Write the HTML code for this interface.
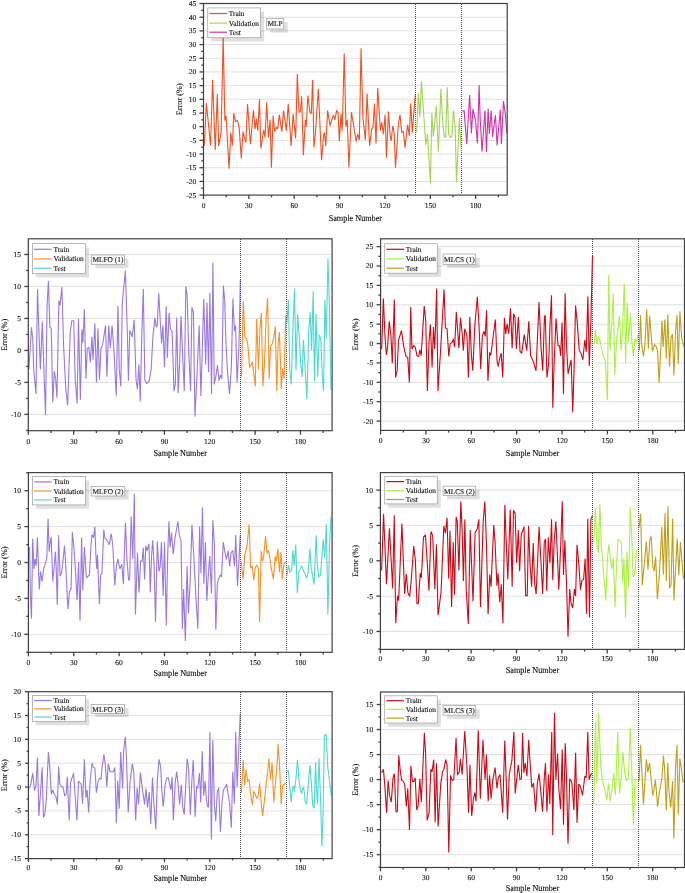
<!DOCTYPE html>
<html><head><meta charset="utf-8"><style>
html,body{margin:0;padding:0;background:#fff;overflow:hidden;width:685px;height:893px;}
svg{display:block;will-change:transform;}
text{font-family:"Liberation Serif", serif;fill:#111;stroke:#111;stroke-width:0.12px;text-rendering:geometricPrecision;}
</style></head><body>
<svg width="685" height="893" viewBox="0 0 685 893">
<rect width="685" height="893" fill="#fff"/>
<line x1="204.2" y1="17.19" x2="506.5" y2="17.19" stroke="#dcdcdc" stroke-width="0.9"/>
<line x1="204.2" y1="30.87" x2="506.5" y2="30.87" stroke="#dcdcdc" stroke-width="0.9"/>
<line x1="204.2" y1="44.56" x2="506.5" y2="44.56" stroke="#dcdcdc" stroke-width="0.9"/>
<line x1="204.2" y1="58.24" x2="506.5" y2="58.24" stroke="#dcdcdc" stroke-width="0.9"/>
<line x1="204.2" y1="71.93" x2="506.5" y2="71.93" stroke="#dcdcdc" stroke-width="0.9"/>
<line x1="204.2" y1="85.61" x2="506.5" y2="85.61" stroke="#dcdcdc" stroke-width="0.9"/>
<line x1="204.2" y1="99.3" x2="506.5" y2="99.3" stroke="#dcdcdc" stroke-width="0.9"/>
<line x1="204.2" y1="112.99" x2="506.5" y2="112.99" stroke="#dcdcdc" stroke-width="0.9"/>
<line x1="204.2" y1="126.67" x2="506.5" y2="126.67" stroke="#dcdcdc" stroke-width="0.9"/>
<line x1="204.2" y1="140.36" x2="506.5" y2="140.36" stroke="#dcdcdc" stroke-width="0.9"/>
<line x1="204.2" y1="154.04" x2="506.5" y2="154.04" stroke="#dcdcdc" stroke-width="0.9"/>
<line x1="204.2" y1="167.73" x2="506.5" y2="167.73" stroke="#dcdcdc" stroke-width="0.9"/>
<line x1="204.2" y1="181.41" x2="506.5" y2="181.41" stroke="#dcdcdc" stroke-width="0.9"/>
<polyline points="204.34,145.9 206.36,103.07 210.56,145.57 212.58,80.06 215.27,150.1 217.29,93.83 218.63,145.9 221.15,132.46 223.17,36.72 224.85,120.71 226.03,115.67 229.05,168.58 230.73,132.46 232.41,145.57 233.76,113.15 235.44,121.55 237.45,120.71 239.13,127.42 241.32,158.5 243,131.62 245.86,142.54 247.54,103.91 250.39,144.22 253.42,110.29 255.1,129.1 256.45,118.69 257.79,130.78 259.47,99.2 260.84,148.42 263.7,129.94 265.04,137.5 266.72,102.23 268.4,137.5 270.08,119.87 271.43,167.74 273.11,115.67 274.62,131.62 276.3,127.42 277.65,129.1 279.33,114.83 281.85,131.62 283.53,110.63 286.39,130.78 288.24,103.91 291.09,145.9 293.11,113.99 295.63,138.34 297.31,74.01 298.99,112.31 300.34,111.47 301.68,96.35 303.36,155.14 305.38,119.87 306.22,126.58 307.9,95.51 309.92,112.31 311.26,113.99 312.61,80.06 313.95,147.58 315.46,132.46 318.34,88.79 321.54,160.18 323.72,134.14 324.56,132.46 325.74,145.9 327.59,110.63 330.11,125.74 332.13,119.03 333.47,114.83 334.82,119.87 336.66,110.63 338.01,112.31 339.35,140.86 341.03,113.99 342.21,130.78 344.23,53.52 345.91,126.58 347.25,119.87 348.93,167.74 351.45,112.31 353.97,127.42 356.16,141.7 357.67,134.14 359.35,140.02 361.03,48.14 362.88,117.35 365.4,140.02 367.08,93.49 369.61,145.9 371.62,129.1 372.97,127.42 374.48,103.57 376.02,143.38 377.7,87.95 380.39,130.78 381.73,122.39 383.41,134.14 385.09,114.83 386.44,157.66 388.45,111.47 390.13,135.82 391.14,140.86 392.82,125.74 394.17,132.46 395.51,167.74 398.37,124.06 400.05,114.83 401.73,132.46 403.41,131.62 404.92,147.58 407.61,124.9 409.29,135.82 410.64,103.57 412.32,132.46 415.34,93.83" fill="none" stroke="#ee5224" stroke-width="1.1" stroke-linejoin="miter" stroke-miterlimit="2.5"/>
<polyline points="416.69,132.39 418.37,92.91 419.88,117.27 421.39,81.15 423.24,107.19 425.76,144.98 427.45,134.06 430.47,183.62 431.82,113.07 433.33,136.58 436.35,106.35 438.37,151.7 440.89,88.71 442.91,125.67 444.25,136.58 445.6,137.42 447.28,87.37 448.62,134.06 450.13,137.42 451.82,136.58 453.5,110.55 455.18,127.35 456.52,182.78 459.38,118.11 461.06,147.5" fill="none" stroke="#a4d454" stroke-width="1.1" stroke-linejoin="miter" stroke-miterlimit="2.5"/>
<polyline points="462.37,111.33 464.12,110.6 466.75,144.09 469.66,95.03 471.41,133.17 472.87,109.15 475.49,120.07 477.39,143.36 479.14,85.13 480.16,118.61 482.05,151.37 484.97,110.6 486.43,152.09 488.17,108.42 489.34,133.9 491.24,110.6 492.55,136.81 495.46,114.97 497.07,145.54 500.27,109.88 501.44,144.09 503.48,101.14 505.38,114.24 506.83,133.17" fill="none" stroke="#d034a8" stroke-width="1.1" stroke-linejoin="miter" stroke-miterlimit="2.5"/>
<line x1="415.5" y1="4" x2="415.5" y2="194.1" stroke="#4a4a4a" stroke-width="1" stroke-dasharray="1 1"/>
<line x1="461.5" y1="4" x2="461.5" y2="194.1" stroke="#4a4a4a" stroke-width="1" stroke-dasharray="1 1"/>
<rect x="211.2" y="11.7" width="52.9" height="29.8" fill="#000" fill-opacity="0.125"/>
<rect x="207.7" y="7.9" width="52.9" height="29.8" fill="#fff" stroke="#a8a8a8" stroke-width="0.8"/>
<line x1="209.4" y1="13.5" x2="227" y2="13.5" stroke="#ee5224" stroke-width="1.2"/>
<text x="228.7" y="16" font-size="7.4">Train</text>
<line x1="209.4" y1="23.1" x2="227" y2="23.1" stroke="#a4d454" stroke-width="1.2"/>
<text x="228.7" y="25.6" font-size="7.4">Validation</text>
<line x1="209.4" y1="32.2" x2="227" y2="32.2" stroke="#d034a8" stroke-width="1.2"/>
<text x="228.7" y="34.7" font-size="7.4">Test</text>
<rect x="270.4" y="22.1" width="17.3" height="10.5" fill="#000" fill-opacity="0.125"/>
<rect x="266.4" y="18.5" width="17.3" height="10.5" fill="#fff" stroke="#a8a8a8" stroke-width="0.8"/>
<text x="275.05" y="26.35" font-size="7.4" text-anchor="middle">MLP</text>
<rect x="203.5" y="3.5" width="303.7" height="191.6" fill="none" stroke="#404040" stroke-width="1.2"/>
<line x1="199.5" y1="195.1" x2="203.5" y2="195.1" stroke="#404040" stroke-width="1.3"/>
<text x="196.2" y="197.6" font-size="7.5" text-anchor="end">-25</text>
<line x1="201.3" y1="188.26" x2="203.5" y2="188.26" stroke="#404040" stroke-width="1.3"/>
<line x1="199.5" y1="181.41" x2="203.5" y2="181.41" stroke="#404040" stroke-width="1.3"/>
<text x="196.2" y="183.91" font-size="7.5" text-anchor="end">-20</text>
<line x1="201.3" y1="174.57" x2="203.5" y2="174.57" stroke="#404040" stroke-width="1.3"/>
<line x1="199.5" y1="167.73" x2="203.5" y2="167.73" stroke="#404040" stroke-width="1.3"/>
<text x="196.2" y="170.23" font-size="7.5" text-anchor="end">-15</text>
<line x1="201.3" y1="160.89" x2="203.5" y2="160.89" stroke="#404040" stroke-width="1.3"/>
<line x1="199.5" y1="154.04" x2="203.5" y2="154.04" stroke="#404040" stroke-width="1.3"/>
<text x="196.2" y="156.54" font-size="7.5" text-anchor="end">-10</text>
<line x1="201.3" y1="147.2" x2="203.5" y2="147.2" stroke="#404040" stroke-width="1.3"/>
<line x1="199.5" y1="140.36" x2="203.5" y2="140.36" stroke="#404040" stroke-width="1.3"/>
<text x="196.2" y="142.86" font-size="7.5" text-anchor="end">-5</text>
<line x1="201.3" y1="133.51" x2="203.5" y2="133.51" stroke="#404040" stroke-width="1.3"/>
<line x1="199.5" y1="126.67" x2="203.5" y2="126.67" stroke="#404040" stroke-width="1.3"/>
<text x="196.2" y="129.17" font-size="7.5" text-anchor="end">0</text>
<line x1="201.3" y1="119.83" x2="203.5" y2="119.83" stroke="#404040" stroke-width="1.3"/>
<line x1="199.5" y1="112.99" x2="203.5" y2="112.99" stroke="#404040" stroke-width="1.3"/>
<text x="196.2" y="115.49" font-size="7.5" text-anchor="end">5</text>
<line x1="201.3" y1="106.14" x2="203.5" y2="106.14" stroke="#404040" stroke-width="1.3"/>
<line x1="199.5" y1="99.3" x2="203.5" y2="99.3" stroke="#404040" stroke-width="1.3"/>
<text x="196.2" y="101.8" font-size="7.5" text-anchor="end">10</text>
<line x1="201.3" y1="92.46" x2="203.5" y2="92.46" stroke="#404040" stroke-width="1.3"/>
<line x1="199.5" y1="85.61" x2="203.5" y2="85.61" stroke="#404040" stroke-width="1.3"/>
<text x="196.2" y="88.11" font-size="7.5" text-anchor="end">15</text>
<line x1="201.3" y1="78.77" x2="203.5" y2="78.77" stroke="#404040" stroke-width="1.3"/>
<line x1="199.5" y1="71.93" x2="203.5" y2="71.93" stroke="#404040" stroke-width="1.3"/>
<text x="196.2" y="74.43" font-size="7.5" text-anchor="end">20</text>
<line x1="201.3" y1="65.09" x2="203.5" y2="65.09" stroke="#404040" stroke-width="1.3"/>
<line x1="199.5" y1="58.24" x2="203.5" y2="58.24" stroke="#404040" stroke-width="1.3"/>
<text x="196.2" y="60.74" font-size="7.5" text-anchor="end">25</text>
<line x1="201.3" y1="51.4" x2="203.5" y2="51.4" stroke="#404040" stroke-width="1.3"/>
<line x1="199.5" y1="44.56" x2="203.5" y2="44.56" stroke="#404040" stroke-width="1.3"/>
<text x="196.2" y="47.06" font-size="7.5" text-anchor="end">30</text>
<line x1="201.3" y1="37.71" x2="203.5" y2="37.71" stroke="#404040" stroke-width="1.3"/>
<line x1="199.5" y1="30.87" x2="203.5" y2="30.87" stroke="#404040" stroke-width="1.3"/>
<text x="196.2" y="33.37" font-size="7.5" text-anchor="end">35</text>
<line x1="201.3" y1="24.03" x2="203.5" y2="24.03" stroke="#404040" stroke-width="1.3"/>
<line x1="199.5" y1="17.19" x2="203.5" y2="17.19" stroke="#404040" stroke-width="1.3"/>
<text x="196.2" y="19.69" font-size="7.5" text-anchor="end">40</text>
<line x1="201.3" y1="10.34" x2="203.5" y2="10.34" stroke="#404040" stroke-width="1.3"/>
<line x1="199.5" y1="3.5" x2="203.5" y2="3.5" stroke="#404040" stroke-width="1.3"/>
<text x="196.2" y="6" font-size="7.5" text-anchor="end">45</text>
<line x1="203.5" y1="195.1" x2="203.5" y2="199.1" stroke="#404040" stroke-width="1.3"/>
<text x="203.5" y="207.9" font-size="7.5" text-anchor="middle">0</text>
<line x1="226.18" y1="195.1" x2="226.18" y2="197.3" stroke="#404040" stroke-width="1.3"/>
<line x1="248.86" y1="195.1" x2="248.86" y2="199.1" stroke="#404040" stroke-width="1.3"/>
<text x="248.86" y="207.9" font-size="7.5" text-anchor="middle">30</text>
<line x1="271.54" y1="195.1" x2="271.54" y2="197.3" stroke="#404040" stroke-width="1.3"/>
<line x1="294.22" y1="195.1" x2="294.22" y2="199.1" stroke="#404040" stroke-width="1.3"/>
<text x="294.22" y="207.9" font-size="7.5" text-anchor="middle">60</text>
<line x1="316.9" y1="195.1" x2="316.9" y2="197.3" stroke="#404040" stroke-width="1.3"/>
<line x1="339.58" y1="195.1" x2="339.58" y2="199.1" stroke="#404040" stroke-width="1.3"/>
<text x="339.58" y="207.9" font-size="7.5" text-anchor="middle">90</text>
<line x1="362.26" y1="195.1" x2="362.26" y2="197.3" stroke="#404040" stroke-width="1.3"/>
<line x1="384.94" y1="195.1" x2="384.94" y2="199.1" stroke="#404040" stroke-width="1.3"/>
<text x="384.94" y="207.9" font-size="7.5" text-anchor="middle">120</text>
<line x1="407.62" y1="195.1" x2="407.62" y2="197.3" stroke="#404040" stroke-width="1.3"/>
<line x1="430.3" y1="195.1" x2="430.3" y2="199.1" stroke="#404040" stroke-width="1.3"/>
<text x="430.3" y="207.9" font-size="7.5" text-anchor="middle">150</text>
<line x1="452.98" y1="195.1" x2="452.98" y2="197.3" stroke="#404040" stroke-width="1.3"/>
<line x1="475.66" y1="195.1" x2="475.66" y2="199.1" stroke="#404040" stroke-width="1.3"/>
<text x="475.66" y="207.9" font-size="7.5" text-anchor="middle">180</text>
<line x1="498.34" y1="195.1" x2="498.34" y2="197.3" stroke="#404040" stroke-width="1.3"/>
<text transform="translate(355.35 221) scale(1 1.1)" font-size="8.2" text-anchor="middle">Sample Number</text>
<text x="179.9" y="99.3" font-size="8.3" text-anchor="middle" dominant-baseline="central" transform="rotate(-90 179.9 99.3)">Error (%)</text>
<line x1="29" y1="254.5" x2="331.4" y2="254.5" stroke="#dcdcdc" stroke-width="0.9"/>
<line x1="29" y1="286.48" x2="331.4" y2="286.48" stroke="#dcdcdc" stroke-width="0.9"/>
<line x1="29" y1="318.46" x2="331.4" y2="318.46" stroke="#dcdcdc" stroke-width="0.9"/>
<line x1="29" y1="350.44" x2="331.4" y2="350.44" stroke="#dcdcdc" stroke-width="0.9"/>
<line x1="29" y1="382.42" x2="331.4" y2="382.42" stroke="#dcdcdc" stroke-width="0.9"/>
<line x1="29" y1="414.4" x2="331.4" y2="414.4" stroke="#dcdcdc" stroke-width="0.9"/>
<polyline points="28.95,369.22 31.43,327.34 32.76,338.76 33.71,369.22 36,393.97 37.52,289.27 39.05,334.96 40.38,369.22 42.29,321.63 43.62,361.61 45.52,414.91 47.05,306.4 48.38,280.7 49.9,327.34 51.24,328.29 52.76,402.54 54.29,371.13 55.62,378.74 56.95,397.78 58.86,300.69 60,305.45 61.9,286.98 63.62,346.38 65.71,388.26 67.62,405.39 70.29,331.15 71.81,320.68 73.71,320.68 75.24,380.64 77.14,403.49 78.48,318.77 80.38,399.68 81.9,329.24 82.86,342.57 84.38,309.26 85.95,378.74 87.29,348.28 88.81,347.33 90.33,362.56 91.86,336.86 93,359.7 94.9,323.53 96.43,382.55 97.95,328.29 99.48,379.69 101,348.28 102.52,345.43 105.57,325.44 106.9,376.84 108.81,325.44 110.33,348.28 112.05,325.44 113.95,350.18 116.24,395.87 117.95,306.02 119.29,369.22 120.81,386.35 122.33,302.59 125.38,270.61 127.29,331.15 128.43,380.64 129.76,330.2 132.24,336.86 134.14,319.73 136.05,379.69 137.38,389.21 138.9,364.46 140.24,401.58 141.76,334.96 143.29,288.89 144.86,380.64 146.76,383.5 149.24,380.64 151.14,369.22 153.05,334.96 154.95,317.82 156.29,327.34 157.24,325.44 158.76,293.07 160.29,321.63 161.62,343.52 162.95,325.44 164.48,367.32 166.19,306.02 167.33,357.8 169.05,313.06 170.57,329.24 172.1,331.15 174,391.11 175.33,384.45 176.67,317.44 178.19,393.02 179.71,361.61 181.05,315.92 182.95,362.56 184.29,391.11 185.81,286.41 187.14,294.98 188.67,350.18 190.57,391.11 191.9,307.35 193.43,312.11 194.95,416.81 197.24,369.22 199.14,325.44 200.9,395.87 203.76,298.78 205.67,364.46 207,302.59 208.52,372.08 209.86,293.07 211.57,393.97 212.9,262.61 214.24,384.45 215.76,376.84 217.48,365.41 219,380.64 220.52,374.93 221.86,378.74 223.38,285.46 224.71,300.69 226.05,344.47 227.57,373.03 229.48,393.97 231.38,367.32 232.9,298.78 234.43,331.15 235.57,325.44 237.1,382.55 239,344.47 240.33,279.75" fill="none" stroke="#9a78dc" stroke-width="1.1" stroke-linejoin="miter" stroke-miterlimit="2.5"/>
<polyline points="241.52,376.84 243.24,300.69 244.76,336.86 246.67,338.76 248,346.38 249.52,367.32 251.43,364.46 252.38,361.61 255.24,386.35 256.76,318.77 258.48,369.22 260,327.34 261.33,313.06 262.86,386.35 264.38,365.41 266.1,318.77 267.62,297.83 269.14,378.74 270.48,346.38 272.38,343.52 273.9,336.86 275.24,326.39 276.76,391.11 278.1,344.47 279.43,332.1 281.33,389.21 282.48,368.27 284.19,378.74 285.71,314.97" fill="none" stroke="#f5922a" stroke-width="1.1" stroke-linejoin="miter" stroke-miterlimit="2.5"/>
<polyline points="286.9,323.53 288.42,299.74 289.75,369.22 291.27,384.45 292.98,327.34 294.51,288.89 296.03,370.17 297.55,314.01 299.26,336.86 300.59,361.61 302.11,376.84 303.44,339.71 304.96,365.41 306.86,398.73 308.76,331.15 310.1,312.11 311.62,350.18 313.14,291.17 314.47,381.6 315.99,314.01 317.7,376.84 319.22,334.96 320.74,338.76 322.45,378.74 323.59,391.11 324.92,299.74 326.25,338.76 327.97,258.81 329.3,302.59 331.01,390.16" fill="none" stroke="#4fd8d0" stroke-width="1.1" stroke-linejoin="miter" stroke-miterlimit="2.5"/>
<line x1="240.5" y1="239" x2="240.5" y2="429.7" stroke="#4a4a4a" stroke-width="1" stroke-dasharray="1 1"/>
<line x1="286.5" y1="239" x2="286.5" y2="429.7" stroke="#4a4a4a" stroke-width="1" stroke-dasharray="1 1"/>
<rect x="35.9" y="247.4" width="53.1" height="30" fill="#000" fill-opacity="0.125"/>
<rect x="32.4" y="243.6" width="53.1" height="30" fill="#fff" stroke="#a8a8a8" stroke-width="0.8"/>
<line x1="34.1" y1="249.3" x2="51.7" y2="249.3" stroke="#9a78dc" stroke-width="1.2"/>
<text x="53.4" y="251.8" font-size="7.4">Train</text>
<line x1="34.1" y1="258.9" x2="51.7" y2="258.9" stroke="#f5922a" stroke-width="1.2"/>
<text x="53.4" y="261.4" font-size="7.4">Validation</text>
<line x1="34.1" y1="268.2" x2="51.7" y2="268.2" stroke="#4fd8d0" stroke-width="1.2"/>
<text x="53.4" y="270.7" font-size="7.4">Test</text>
<rect x="95.4" y="258.6" width="33" height="9.6" fill="#000" fill-opacity="0.125"/>
<rect x="91.4" y="255" width="33" height="9.6" fill="#fff" stroke="#a8a8a8" stroke-width="0.8"/>
<text x="107.9" y="262.4" font-size="7.4" text-anchor="middle">MLFO (1)</text>
<rect x="28.3" y="238.8" width="303.8" height="191.9" fill="none" stroke="#404040" stroke-width="1.2"/>
<line x1="26.1" y1="430.39" x2="28.3" y2="430.39" stroke="#404040" stroke-width="1.3"/>
<line x1="24.3" y1="414.4" x2="28.3" y2="414.4" stroke="#404040" stroke-width="1.3"/>
<text x="21" y="416.9" font-size="7.5" text-anchor="end">-10</text>
<line x1="26.1" y1="398.41" x2="28.3" y2="398.41" stroke="#404040" stroke-width="1.3"/>
<line x1="24.3" y1="382.42" x2="28.3" y2="382.42" stroke="#404040" stroke-width="1.3"/>
<text x="21" y="384.92" font-size="7.5" text-anchor="end">-5</text>
<line x1="26.1" y1="366.43" x2="28.3" y2="366.43" stroke="#404040" stroke-width="1.3"/>
<line x1="24.3" y1="350.44" x2="28.3" y2="350.44" stroke="#404040" stroke-width="1.3"/>
<text x="21" y="352.94" font-size="7.5" text-anchor="end">0</text>
<line x1="26.1" y1="334.45" x2="28.3" y2="334.45" stroke="#404040" stroke-width="1.3"/>
<line x1="24.3" y1="318.46" x2="28.3" y2="318.46" stroke="#404040" stroke-width="1.3"/>
<text x="21" y="320.96" font-size="7.5" text-anchor="end">5</text>
<line x1="26.1" y1="302.47" x2="28.3" y2="302.47" stroke="#404040" stroke-width="1.3"/>
<line x1="24.3" y1="286.48" x2="28.3" y2="286.48" stroke="#404040" stroke-width="1.3"/>
<text x="21" y="288.98" font-size="7.5" text-anchor="end">10</text>
<line x1="26.1" y1="270.49" x2="28.3" y2="270.49" stroke="#404040" stroke-width="1.3"/>
<line x1="24.3" y1="254.5" x2="28.3" y2="254.5" stroke="#404040" stroke-width="1.3"/>
<text x="21" y="257" font-size="7.5" text-anchor="end">15</text>
<line x1="28.3" y1="430.7" x2="28.3" y2="434.7" stroke="#404040" stroke-width="1.3"/>
<text x="28.3" y="443.8" font-size="7.5" text-anchor="middle">0</text>
<line x1="50.98" y1="430.7" x2="50.98" y2="432.9" stroke="#404040" stroke-width="1.3"/>
<line x1="73.66" y1="430.7" x2="73.66" y2="434.7" stroke="#404040" stroke-width="1.3"/>
<text x="73.66" y="443.8" font-size="7.5" text-anchor="middle">30</text>
<line x1="96.34" y1="430.7" x2="96.34" y2="432.9" stroke="#404040" stroke-width="1.3"/>
<line x1="119.02" y1="430.7" x2="119.02" y2="434.7" stroke="#404040" stroke-width="1.3"/>
<text x="119.02" y="443.8" font-size="7.5" text-anchor="middle">60</text>
<line x1="141.7" y1="430.7" x2="141.7" y2="432.9" stroke="#404040" stroke-width="1.3"/>
<line x1="164.38" y1="430.7" x2="164.38" y2="434.7" stroke="#404040" stroke-width="1.3"/>
<text x="164.38" y="443.8" font-size="7.5" text-anchor="middle">90</text>
<line x1="187.06" y1="430.7" x2="187.06" y2="432.9" stroke="#404040" stroke-width="1.3"/>
<line x1="209.74" y1="430.7" x2="209.74" y2="434.7" stroke="#404040" stroke-width="1.3"/>
<text x="209.74" y="443.8" font-size="7.5" text-anchor="middle">120</text>
<line x1="232.42" y1="430.7" x2="232.42" y2="432.9" stroke="#404040" stroke-width="1.3"/>
<line x1="255.1" y1="430.7" x2="255.1" y2="434.7" stroke="#404040" stroke-width="1.3"/>
<text x="255.1" y="443.8" font-size="7.5" text-anchor="middle">150</text>
<line x1="277.78" y1="430.7" x2="277.78" y2="432.9" stroke="#404040" stroke-width="1.3"/>
<line x1="300.46" y1="430.7" x2="300.46" y2="434.7" stroke="#404040" stroke-width="1.3"/>
<text x="300.46" y="443.8" font-size="7.5" text-anchor="middle">180</text>
<line x1="323.14" y1="430.7" x2="323.14" y2="432.9" stroke="#404040" stroke-width="1.3"/>
<text transform="translate(180.2 455.9) scale(1 1.1)" font-size="8.2" text-anchor="middle">Sample Number</text>
<text x="4.9" y="334.75" font-size="8.3" text-anchor="middle" dominant-baseline="central" transform="rotate(-90 4.9 334.75)">Error (%)</text>
<line x1="381.3" y1="246.6" x2="683.8" y2="246.6" stroke="#dcdcdc" stroke-width="0.9"/>
<line x1="381.3" y1="265.99" x2="683.8" y2="265.99" stroke="#dcdcdc" stroke-width="0.9"/>
<line x1="381.3" y1="285.38" x2="683.8" y2="285.38" stroke="#dcdcdc" stroke-width="0.9"/>
<line x1="381.3" y1="304.77" x2="683.8" y2="304.77" stroke="#dcdcdc" stroke-width="0.9"/>
<line x1="381.3" y1="324.16" x2="683.8" y2="324.16" stroke="#dcdcdc" stroke-width="0.9"/>
<line x1="381.3" y1="343.54" x2="683.8" y2="343.54" stroke="#dcdcdc" stroke-width="0.9"/>
<line x1="381.3" y1="362.93" x2="683.8" y2="362.93" stroke="#dcdcdc" stroke-width="0.9"/>
<line x1="381.3" y1="382.32" x2="683.8" y2="382.32" stroke="#dcdcdc" stroke-width="0.9"/>
<line x1="381.3" y1="401.71" x2="683.8" y2="401.71" stroke="#dcdcdc" stroke-width="0.9"/>
<line x1="381.3" y1="421.1" x2="683.8" y2="421.1" stroke="#dcdcdc" stroke-width="0.9"/>
<polyline points="381.68,348.95 383.36,298.56 385.04,337.19 386.39,354.83 387.56,347.27 389.24,321.23 390.92,335.51 392.27,363.23 394.29,299.4 395.63,377.5 397.14,370.78 398.49,340.55 401.51,330.47 403.53,345.59 406.05,356.51 407.73,357.35 409.41,382.54 410.76,306.95 411.93,348.95 413.61,345.59 415.29,347.27 416.97,355.67 418.66,356.51 419.83,349.79 421.18,355.67 424.2,306.11 425.71,320.39 427.39,390.94 429.08,340.55 430.42,324.59 432.1,367.42 433.45,327.11 434.62,348.95 435.46,328.79 436.64,288.48 437.98,390.94 440.36,353.99 444.06,289.32 445.4,327.95 447.08,328.79 448.76,356.51 450.11,343.91 452.13,342.23 453.3,338.87 454.65,347.27 456.33,311.99 457.67,330.47 458.85,348.11 460.53,317.87 462.21,333.83 463.39,350.63 464.73,328.79 466.92,335.51 468.43,377.5 469.77,317.03 471.45,355.67 472.8,370.78 474.82,325.43 477.34,296.88 479.02,325.43 480.7,369.1 482.38,335.51 484.06,331.31 485.24,336.35 486.58,310.31 487.92,380.86 489.61,352.31 490.78,355.67 492.46,342.23 495.32,319.55 497.03,360.71 498.2,366.58 499.88,357.35 501.23,353.15 502.74,377.5 504.42,317.87 505.76,333.83 507.11,323.75 508.79,333.83 510.47,308.3 512.15,348.11 513.66,313.67 515.01,317.03 516.35,348.95 518.37,317.03 520.05,351.47 521.73,353.15 524.25,334.67 526.77,350.63 528.79,321.23 530.64,355.67 532.99,360.71 536.02,370.78 539.04,301.91 541.06,348.11 542.74,370.78 544.42,317.03 545.26,315.35 546.94,377.5 548.62,364.06 549.97,325.43 551.48,295.2 552.82,407.74 554.02,365.94 556.03,318.57 558.05,345.78 559.46,345.78 560.66,355.86 562.07,322.6 563.48,394.16 565.09,293.38 566.5,345.78 568.11,374 569.72,365.94 571.13,359.89 572.74,412.3 574.15,365.94 575.56,305.47 577.17,321.6 579.19,349.82 581.2,353.85 582.81,359.89 584.83,339.74 586.23,351.83 587.85,296.4 589.26,365.94 590.87,321.6 592.48,255.08" fill="none" stroke="#c80a18" stroke-width="1.1" stroke-linejoin="miter" stroke-miterlimit="2.5"/>
<polyline points="594.29,343.77 595.3,329.66 596.91,343.77 598.32,336.71 600.33,341.75 602.34,351.83 605.36,361.91 607.38,400.21 608.67,274.99 610,350.18 611.9,321.63 613.24,294.03 614.76,374.93 616.67,338.76 619.52,315.92 621.05,350.18 622.38,331.15 624.29,283.17 625.62,363.51 627.14,302.59 628.67,342.57 630.38,313.06 631.9,342.57 633.43,355.9 634.76,338.76 636.67,342.57 638,334.96" fill="none" stroke="#acf040" stroke-width="1.1" stroke-linejoin="miter" stroke-miterlimit="2.5"/>
<polyline points="639.37,350.7 640.54,315.03 641.56,343.42 643.45,356.52 644.91,344.88 646.66,309.21 648.41,348.52 649.58,315.76 651.03,333.23 652.49,351.43 654.68,344.88 656.14,346.33 657.59,350.7 659.05,382.73 660.51,353.61 661.97,320.86 663.13,347.06 664.88,319.4 666.34,358.71 667.8,314.31 669.55,366.71 671.01,337.6 672.46,333.96 673.92,375.45 675.52,331.77 676.98,315.03 678.29,363.8 679.9,311.39 681.65,337.6 683.54,346.33" fill="none" stroke="#c0a018" stroke-width="1.1" stroke-linejoin="miter" stroke-miterlimit="2.5"/>
<line x1="592.5" y1="239" x2="592.5" y2="429.4" stroke="#4a4a4a" stroke-width="1" stroke-dasharray="1 1"/>
<line x1="638.5" y1="239" x2="638.5" y2="429.4" stroke="#4a4a4a" stroke-width="1" stroke-dasharray="1 1"/>
<rect x="388.2" y="247.5" width="52.6" height="29.5" fill="#000" fill-opacity="0.125"/>
<rect x="384.7" y="243.7" width="52.6" height="29.5" fill="#fff" stroke="#a8a8a8" stroke-width="0.8"/>
<line x1="386.4" y1="249.3" x2="404" y2="249.3" stroke="#c80a18" stroke-width="1.2"/>
<text x="405.7" y="251.8" font-size="7.4">Train</text>
<line x1="386.4" y1="258.9" x2="404" y2="258.9" stroke="#acf040" stroke-width="1.2"/>
<text x="405.7" y="261.4" font-size="7.4">Validation</text>
<line x1="386.4" y1="268.2" x2="404" y2="268.2" stroke="#c0a018" stroke-width="1.2"/>
<text x="405.7" y="270.7" font-size="7.4">Test</text>
<rect x="447.1" y="257.6" width="32.6" height="10.4" fill="#000" fill-opacity="0.125"/>
<rect x="443.1" y="254" width="32.6" height="10.4" fill="#fff" stroke="#a8a8a8" stroke-width="0.8"/>
<text x="459.4" y="261.8" font-size="7.4" text-anchor="middle">MLCS (1)</text>
<rect x="380.6" y="238.8" width="303.9" height="191.6" fill="none" stroke="#404040" stroke-width="1.2"/>
<line x1="376.6" y1="421.1" x2="380.6" y2="421.1" stroke="#404040" stroke-width="1.3"/>
<text x="373.3" y="423.6" font-size="7.5" text-anchor="end">-20</text>
<line x1="378.4" y1="411.41" x2="380.6" y2="411.41" stroke="#404040" stroke-width="1.3"/>
<line x1="376.6" y1="401.71" x2="380.6" y2="401.71" stroke="#404040" stroke-width="1.3"/>
<text x="373.3" y="404.21" font-size="7.5" text-anchor="end">-15</text>
<line x1="378.4" y1="392.02" x2="380.6" y2="392.02" stroke="#404040" stroke-width="1.3"/>
<line x1="376.6" y1="382.32" x2="380.6" y2="382.32" stroke="#404040" stroke-width="1.3"/>
<text x="373.3" y="384.82" font-size="7.5" text-anchor="end">-10</text>
<line x1="378.4" y1="372.63" x2="380.6" y2="372.63" stroke="#404040" stroke-width="1.3"/>
<line x1="376.6" y1="362.93" x2="380.6" y2="362.93" stroke="#404040" stroke-width="1.3"/>
<text x="373.3" y="365.43" font-size="7.5" text-anchor="end">-5</text>
<line x1="378.4" y1="353.24" x2="380.6" y2="353.24" stroke="#404040" stroke-width="1.3"/>
<line x1="376.6" y1="343.54" x2="380.6" y2="343.54" stroke="#404040" stroke-width="1.3"/>
<text x="373.3" y="346.04" font-size="7.5" text-anchor="end">0</text>
<line x1="378.4" y1="333.85" x2="380.6" y2="333.85" stroke="#404040" stroke-width="1.3"/>
<line x1="376.6" y1="324.16" x2="380.6" y2="324.16" stroke="#404040" stroke-width="1.3"/>
<text x="373.3" y="326.66" font-size="7.5" text-anchor="end">5</text>
<line x1="378.4" y1="314.46" x2="380.6" y2="314.46" stroke="#404040" stroke-width="1.3"/>
<line x1="376.6" y1="304.77" x2="380.6" y2="304.77" stroke="#404040" stroke-width="1.3"/>
<text x="373.3" y="307.27" font-size="7.5" text-anchor="end">10</text>
<line x1="378.4" y1="295.07" x2="380.6" y2="295.07" stroke="#404040" stroke-width="1.3"/>
<line x1="376.6" y1="285.38" x2="380.6" y2="285.38" stroke="#404040" stroke-width="1.3"/>
<text x="373.3" y="287.88" font-size="7.5" text-anchor="end">15</text>
<line x1="378.4" y1="275.68" x2="380.6" y2="275.68" stroke="#404040" stroke-width="1.3"/>
<line x1="376.6" y1="265.99" x2="380.6" y2="265.99" stroke="#404040" stroke-width="1.3"/>
<text x="373.3" y="268.49" font-size="7.5" text-anchor="end">20</text>
<line x1="378.4" y1="256.29" x2="380.6" y2="256.29" stroke="#404040" stroke-width="1.3"/>
<line x1="376.6" y1="246.6" x2="380.6" y2="246.6" stroke="#404040" stroke-width="1.3"/>
<text x="373.3" y="249.1" font-size="7.5" text-anchor="end">25</text>
<line x1="380.6" y1="430.4" x2="380.6" y2="434.4" stroke="#404040" stroke-width="1.3"/>
<text x="380.6" y="443.4" font-size="7.5" text-anchor="middle">0</text>
<line x1="403.28" y1="430.4" x2="403.28" y2="432.6" stroke="#404040" stroke-width="1.3"/>
<line x1="425.96" y1="430.4" x2="425.96" y2="434.4" stroke="#404040" stroke-width="1.3"/>
<text x="425.96" y="443.4" font-size="7.5" text-anchor="middle">30</text>
<line x1="448.64" y1="430.4" x2="448.64" y2="432.6" stroke="#404040" stroke-width="1.3"/>
<line x1="471.32" y1="430.4" x2="471.32" y2="434.4" stroke="#404040" stroke-width="1.3"/>
<text x="471.32" y="443.4" font-size="7.5" text-anchor="middle">60</text>
<line x1="494" y1="430.4" x2="494" y2="432.6" stroke="#404040" stroke-width="1.3"/>
<line x1="516.68" y1="430.4" x2="516.68" y2="434.4" stroke="#404040" stroke-width="1.3"/>
<text x="516.68" y="443.4" font-size="7.5" text-anchor="middle">90</text>
<line x1="539.36" y1="430.4" x2="539.36" y2="432.6" stroke="#404040" stroke-width="1.3"/>
<line x1="562.04" y1="430.4" x2="562.04" y2="434.4" stroke="#404040" stroke-width="1.3"/>
<text x="562.04" y="443.4" font-size="7.5" text-anchor="middle">120</text>
<line x1="584.72" y1="430.4" x2="584.72" y2="432.6" stroke="#404040" stroke-width="1.3"/>
<line x1="607.4" y1="430.4" x2="607.4" y2="434.4" stroke="#404040" stroke-width="1.3"/>
<text x="607.4" y="443.4" font-size="7.5" text-anchor="middle">150</text>
<line x1="630.08" y1="430.4" x2="630.08" y2="432.6" stroke="#404040" stroke-width="1.3"/>
<line x1="652.76" y1="430.4" x2="652.76" y2="434.4" stroke="#404040" stroke-width="1.3"/>
<text x="652.76" y="443.4" font-size="7.5" text-anchor="middle">180</text>
<line x1="675.44" y1="430.4" x2="675.44" y2="432.6" stroke="#404040" stroke-width="1.3"/>
<text transform="translate(532.55 455.6) scale(1 1.1)" font-size="8.2" text-anchor="middle">Sample Number</text>
<text x="355.8" y="334.6" font-size="8.3" text-anchor="middle" dominant-baseline="central" transform="rotate(-90 355.8 334.6)">Error (%)</text>
<line x1="29.1" y1="490.7" x2="331.4" y2="490.7" stroke="#dcdcdc" stroke-width="0.9"/>
<line x1="29.1" y1="526.6" x2="331.4" y2="526.6" stroke="#dcdcdc" stroke-width="0.9"/>
<line x1="29.1" y1="562.5" x2="331.4" y2="562.5" stroke="#dcdcdc" stroke-width="0.9"/>
<line x1="29.1" y1="598.4" x2="331.4" y2="598.4" stroke="#dcdcdc" stroke-width="0.9"/>
<line x1="29.1" y1="634.3" x2="331.4" y2="634.3" stroke="#dcdcdc" stroke-width="0.9"/>
<polyline points="29.57,547.03 30.35,594.06 31.45,618.37 32.7,538.41 33.95,568.98 35.05,558.79 36.15,565.85 37.4,537.63 39.28,589.36 40.53,571.33 42.1,581.52 43.67,568.98 46.02,561.14 46.8,558.01 48.05,518.81 49.15,551.74 50.25,542.33 51.19,536.84 52.75,581.52 53.85,570.55 55.42,551.74 56.2,567.41 57.3,605.04 58.55,535.27 60.11,576.04 61.37,573.68 62.46,565.85 64.5,545.46 65.6,562.71 67.95,608.96 69.51,591.71 71.08,588.58 72.33,532.14 73.74,545.46 75,562.71 77.03,600.34 78.6,561.93 80.01,620.72 81.58,537.63 82.83,590.15 84.4,547.03 86.28,576.82 86.88,577.6 88.13,576.04 89.39,575.25 90.95,545.46 92.05,534.49 93.62,537.63 94.87,526.65 95.97,556.44 96.75,568.98 97.53,554.87 99.41,604.26 100.67,575.25 101.92,573.68 103.8,529.79 105.05,538.41 106.93,539.98 109.28,544.68 111.32,533.71 112.89,547.03 114.77,585.44 116.33,565.85 117.9,558.79 119.78,568.98 121.81,564.28 123.38,583.87 125.42,522.73 126.98,559.57 128.55,579.96 129.65,579.17 131.21,516.46 132.78,558.79 134.35,493.73 135.44,614.45 137.48,552.52 139.05,592.5 140.61,561.14 142.18,561.14 143.28,547.82 144.6,579.39 145.82,545.54 147.2,550.75 148.94,543.81 150.32,592.41 151.54,555.96 152.75,540.34 154.14,566.37 155.53,621.91 157.26,541.2 158.99,571.58 160.21,566.37 161.42,542.07 163.16,595.88 164.54,542.07 166.28,625.39 167.66,555.96 168.88,521.24 170.09,547.28 171.48,532.53 173.21,554.22 174.95,538.6 177.9,521.24 179.28,535.13 181.02,540.34 182.4,628.86 183.62,588.94 185.35,641.01 187.09,566.37 188.47,613.24 190.21,580.26 191.94,524.71 193.5,550.75 195.76,594.14 197.84,628.86 199.57,526.45 200.96,573.31 202.47,507.36 203.86,583.73 205.42,542.07 206.8,601.09 208.54,571.58 209.75,555.96 211.49,593.28 212.87,520.38 214.26,542.07 215.82,629.73 217.38,582.86 218.94,578.52 220.33,575.05 221.54,576.79 223.28,542.07 225.01,552.49 226.4,559.43 228.13,550.75 229.69,566.37 231.08,552.49 232.82,550.75 234.55,566.37 235.76,535.13 237.5,586.33 239.23,555.96 240.27,535.13" fill="none" stroke="#9a78dc" stroke-width="1.1" stroke-linejoin="miter" stroke-miterlimit="2.5"/>
<polyline points="241.25,562.71 243.13,579.17 244.7,555.66 247.05,545.46 249.09,524.3 250.65,568.2 252.22,565.85 253.79,579.96 255.35,567.41 256.92,565.06 258.49,568.98 259.58,622.28 261.15,550.95 262.4,561.14 263.5,558.01 265.54,536.06 266.95,553.3 268.2,550.17 269.45,554.87 271.33,568.98 273.37,579.17 275.25,556.44 276.34,561.14 277.91,548.6 279.48,572.12 281.04,551.74 282.3,579.17 283.86,564.28 285.74,561.93" fill="none" stroke="#f5922a" stroke-width="1.1" stroke-linejoin="miter" stroke-miterlimit="2.5"/>
<polyline points="287.13,575.25 288.39,565.06 289.96,572.12 291.52,570.55 292.93,550.17 294.19,565.85 295.76,544.68 297.32,593.28 298.89,572.12 301.55,565.85 304.06,572.12 306.73,578.39 308.29,571.33 309.86,548.6 311.12,567.41 312.21,573.68 314.09,584.66 316.13,535.27 317.39,565.85 318.8,576.82 320.36,575.25 321.93,556.44 323.18,539.19 324.75,558.01 326.32,524.3 327.89,614.45 329.45,547.03 331.02,516.46" fill="none" stroke="#4fd8d0" stroke-width="1.1" stroke-linejoin="miter" stroke-miterlimit="2.5"/>
<line x1="240.5" y1="473" x2="240.5" y2="651.3" stroke="#4a4a4a" stroke-width="1" stroke-dasharray="1 1"/>
<line x1="286.5" y1="473" x2="286.5" y2="651.3" stroke="#4a4a4a" stroke-width="1" stroke-dasharray="1 1"/>
<rect x="35.9" y="480.4" width="53.2" height="28.3" fill="#000" fill-opacity="0.125"/>
<rect x="32.4" y="476.6" width="53.2" height="28.3" fill="#fff" stroke="#a8a8a8" stroke-width="0.8"/>
<line x1="34.1" y1="481.9" x2="51.7" y2="481.9" stroke="#9a78dc" stroke-width="1.2"/>
<text x="53.4" y="484.4" font-size="7.4">Train</text>
<line x1="34.1" y1="491" x2="51.7" y2="491" stroke="#f5922a" stroke-width="1.2"/>
<text x="53.4" y="493.5" font-size="7.4">Validation</text>
<line x1="34.1" y1="499.9" x2="51.7" y2="499.9" stroke="#4fd8d0" stroke-width="1.2"/>
<text x="53.4" y="502.4" font-size="7.4">Test</text>
<rect x="95.2" y="490" width="33.5" height="9.6" fill="#000" fill-opacity="0.125"/>
<rect x="91.2" y="486.4" width="33.5" height="9.6" fill="#fff" stroke="#a8a8a8" stroke-width="0.8"/>
<text x="107.95" y="493.8" font-size="7.4" text-anchor="middle">MLFO (2)</text>
<rect x="28.4" y="472.6" width="303.7" height="179.7" fill="none" stroke="#404040" stroke-width="1.2"/>
<line x1="26.2" y1="652.25" x2="28.4" y2="652.25" stroke="#404040" stroke-width="1.3"/>
<line x1="24.4" y1="634.3" x2="28.4" y2="634.3" stroke="#404040" stroke-width="1.3"/>
<text x="21.1" y="636.8" font-size="7.5" text-anchor="end">-10</text>
<line x1="26.2" y1="616.35" x2="28.4" y2="616.35" stroke="#404040" stroke-width="1.3"/>
<line x1="24.4" y1="598.4" x2="28.4" y2="598.4" stroke="#404040" stroke-width="1.3"/>
<text x="21.1" y="600.9" font-size="7.5" text-anchor="end">-5</text>
<line x1="26.2" y1="580.45" x2="28.4" y2="580.45" stroke="#404040" stroke-width="1.3"/>
<line x1="24.4" y1="562.5" x2="28.4" y2="562.5" stroke="#404040" stroke-width="1.3"/>
<text x="21.1" y="565" font-size="7.5" text-anchor="end">0</text>
<line x1="26.2" y1="544.55" x2="28.4" y2="544.55" stroke="#404040" stroke-width="1.3"/>
<line x1="24.4" y1="526.6" x2="28.4" y2="526.6" stroke="#404040" stroke-width="1.3"/>
<text x="21.1" y="529.1" font-size="7.5" text-anchor="end">5</text>
<line x1="26.2" y1="508.65" x2="28.4" y2="508.65" stroke="#404040" stroke-width="1.3"/>
<line x1="24.4" y1="490.7" x2="28.4" y2="490.7" stroke="#404040" stroke-width="1.3"/>
<text x="21.1" y="493.2" font-size="7.5" text-anchor="end">10</text>
<line x1="26.2" y1="472.75" x2="28.4" y2="472.75" stroke="#404040" stroke-width="1.3"/>
<line x1="28.4" y1="652.3" x2="28.4" y2="656.3" stroke="#404040" stroke-width="1.3"/>
<text x="28.4" y="664.5" font-size="7.5" text-anchor="middle">0</text>
<line x1="51.08" y1="652.3" x2="51.08" y2="654.5" stroke="#404040" stroke-width="1.3"/>
<line x1="73.76" y1="652.3" x2="73.76" y2="656.3" stroke="#404040" stroke-width="1.3"/>
<text x="73.76" y="664.5" font-size="7.5" text-anchor="middle">30</text>
<line x1="96.44" y1="652.3" x2="96.44" y2="654.5" stroke="#404040" stroke-width="1.3"/>
<line x1="119.12" y1="652.3" x2="119.12" y2="656.3" stroke="#404040" stroke-width="1.3"/>
<text x="119.12" y="664.5" font-size="7.5" text-anchor="middle">60</text>
<line x1="141.8" y1="652.3" x2="141.8" y2="654.5" stroke="#404040" stroke-width="1.3"/>
<line x1="164.48" y1="652.3" x2="164.48" y2="656.3" stroke="#404040" stroke-width="1.3"/>
<text x="164.48" y="664.5" font-size="7.5" text-anchor="middle">90</text>
<line x1="187.16" y1="652.3" x2="187.16" y2="654.5" stroke="#404040" stroke-width="1.3"/>
<line x1="209.84" y1="652.3" x2="209.84" y2="656.3" stroke="#404040" stroke-width="1.3"/>
<text x="209.84" y="664.5" font-size="7.5" text-anchor="middle">120</text>
<line x1="232.52" y1="652.3" x2="232.52" y2="654.5" stroke="#404040" stroke-width="1.3"/>
<line x1="255.2" y1="652.3" x2="255.2" y2="656.3" stroke="#404040" stroke-width="1.3"/>
<text x="255.2" y="664.5" font-size="7.5" text-anchor="middle">150</text>
<line x1="277.88" y1="652.3" x2="277.88" y2="654.5" stroke="#404040" stroke-width="1.3"/>
<line x1="300.56" y1="652.3" x2="300.56" y2="656.3" stroke="#404040" stroke-width="1.3"/>
<text x="300.56" y="664.5" font-size="7.5" text-anchor="middle">180</text>
<line x1="323.24" y1="652.3" x2="323.24" y2="654.5" stroke="#404040" stroke-width="1.3"/>
<text transform="translate(180.25 675.8) scale(1 1.1)" font-size="8.2" text-anchor="middle">Sample Number</text>
<text x="5" y="562.45" font-size="8.3" text-anchor="middle" dominant-baseline="central" transform="rotate(-90 5 562.45)">Error (%)</text>
<line x1="381.1" y1="490.1" x2="683.8" y2="490.1" stroke="#dcdcdc" stroke-width="0.9"/>
<line x1="381.1" y1="525.45" x2="683.8" y2="525.45" stroke="#dcdcdc" stroke-width="0.9"/>
<line x1="381.1" y1="560.8" x2="683.8" y2="560.8" stroke="#dcdcdc" stroke-width="0.9"/>
<line x1="381.1" y1="596.15" x2="683.8" y2="596.15" stroke="#dcdcdc" stroke-width="0.9"/>
<line x1="381.1" y1="631.5" x2="683.8" y2="631.5" stroke="#dcdcdc" stroke-width="0.9"/>
<polyline points="381.62,570.5 383.57,513.67 386.49,584.31 389.41,528.29 392.65,588.37 394.27,515.3 395.73,623.28 397.51,595.67 398.65,600.54 401.89,523.42 404.65,594.05 406.27,573.75 407.89,592.42 409.68,596.48 411.3,579.43 413.73,546.15 415.35,559.95 416.97,603.79 418.27,603.79 420.22,572.94 421.35,577.81 423.46,537.22 425.41,534.78 427.03,559.14 428.97,590.8 430.92,531.53 432.7,535.59 434.81,589.18 436.43,544.52 438.05,615.16 441.05,592.42 443.81,525.85 445.43,533.16 447.05,517.73 448.68,578.62 449.97,530.72 451.59,607.04 453.22,542.09 454.51,594.86 456.14,516.92 457.27,520.98 458.89,570.5 460.84,501.49 462.14,530.72 463.43,581.06 464.89,519.36 466.19,589.18 468.3,624.09 470.24,529.91 471.54,563.2 473,601.35 475.11,532.35 477.22,529.1 478.84,519.36 480.46,607.04 483.22,520.98 484.84,501.49 486.46,543.71 488.08,614.34 489.7,574.56 491,586.74 493.76,525.04 495.05,542.09 496.92,585.93 498.05,572.94 499.68,602.17 501.3,584.31 502.92,623.28 504.86,504.74 506.16,540.46 507.78,579.43 510.22,509.61 512.16,586.74 513.46,510.43 515.08,512.86 516.7,563.2 518.32,529.91 519.62,571.32 521.24,534.78 524,526.66 525.62,595.67 527.24,595.67 528.54,525.85 530,563.2 531.62,586.74 533.24,542.9 534.54,582.68 536.16,594.05 539.08,526.66 541.03,563.2 542.65,594.05 544.27,542.09 545.57,538.84 546.7,590.8 548.32,537.22 549.95,563.2 551.57,519.36 552.73,580.26 554.12,542.07 555.86,521.24 557.07,547.28 558.8,589.8 560.54,549.01 562.27,501.28 563.49,575.05 564.87,540.34 566.61,585.46 567.99,636.67 569.73,588.94 570.94,602.82 572.68,608.03 574.41,588.94 575.62,595.88 577.01,544.68 578.75,562.9 580.48,589.8 581.87,580.26 583.6,579.39 585.16,558.56 586.55,614.1 587.76,518.64 589.5,617.58 590.88,519.51 592.62,515.17" fill="none" stroke="#c80a18" stroke-width="1.1" stroke-linejoin="miter" stroke-miterlimit="2.5"/>
<polyline points="593.68,542.03 595.36,508.44 596.7,542.03 598.38,552.95 599.89,504.24 601.23,543.71 602.91,563.87 605.76,600.82 607.44,558.83 608.78,544.55 610.46,558.83 611.8,568.91 613.31,557.99 614.99,607.54 616.33,570.59 618.01,539.51 619.68,540.35 621.36,543.71 622.7,582.35 623.88,558.83 625.56,617.62 626.9,552.11 628.58,586.55 630.26,506.76 631.77,536.99 633.11,577.31 634.79,573.95 636.46,550.43 637.64,548.75" fill="none" stroke="#acf040" stroke-width="1.1" stroke-linejoin="miter" stroke-miterlimit="2.5"/>
<polyline points="639.06,527.47 640.68,513.67 642.31,585.12 643.93,568.07 646.36,541.28 647.99,569.69 649.94,538.84 651.23,536.41 652.86,566.44 654.16,571.32 655.62,556.7 657.4,598.92 659.03,579.43 660.65,551.83 661.79,526.66 663.41,574.56 665.03,512.86 666.33,581.06 667.95,506.37 669.58,588.37 671.04,585.12 672.66,518.54 673.96,600.54 675.58,568.88 677.21,538.84 678.83,575.38 680.45,542.09 683.38,578.62" fill="none" stroke="#c0a018" stroke-width="1.1" stroke-linejoin="miter" stroke-miterlimit="2.5"/>
<line x1="592.5" y1="473" x2="592.5" y2="648.4" stroke="#4a4a4a" stroke-width="1" stroke-dasharray="1 1"/>
<line x1="638.5" y1="473" x2="638.5" y2="648.4" stroke="#4a4a4a" stroke-width="1" stroke-dasharray="1 1"/>
<rect x="388.2" y="480.1" width="52.6" height="27.6" fill="#000" fill-opacity="0.125"/>
<rect x="384.7" y="476.3" width="52.6" height="27.6" fill="#fff" stroke="#a8a8a8" stroke-width="0.8"/>
<line x1="386.4" y1="481.6" x2="404" y2="481.6" stroke="#c80a18" stroke-width="1.2"/>
<text x="405.7" y="484.1" font-size="7.4">Train</text>
<line x1="386.4" y1="490.6" x2="404" y2="490.6" stroke="#acf040" stroke-width="1.2"/>
<text x="405.7" y="493.1" font-size="7.4">Validation</text>
<line x1="386.4" y1="499.5" x2="404" y2="499.5" stroke="#c0a018" stroke-width="1.2"/>
<text x="405.7" y="502" font-size="7.4">Test</text>
<rect x="447.1" y="489.8" width="32.6" height="9.4" fill="#000" fill-opacity="0.125"/>
<rect x="443.1" y="486.2" width="32.6" height="9.4" fill="#fff" stroke="#a8a8a8" stroke-width="0.8"/>
<text x="459.4" y="493.5" font-size="7.4" text-anchor="middle">MLCS (2)</text>
<rect x="380.4" y="472.6" width="304.1" height="176.8" fill="none" stroke="#404040" stroke-width="1.2"/>
<line x1="378.2" y1="649.17" x2="380.4" y2="649.17" stroke="#404040" stroke-width="1.3"/>
<line x1="376.4" y1="631.5" x2="380.4" y2="631.5" stroke="#404040" stroke-width="1.3"/>
<text x="373.1" y="634" font-size="7.5" text-anchor="end">-10</text>
<line x1="378.2" y1="613.83" x2="380.4" y2="613.83" stroke="#404040" stroke-width="1.3"/>
<line x1="376.4" y1="596.15" x2="380.4" y2="596.15" stroke="#404040" stroke-width="1.3"/>
<text x="373.1" y="598.65" font-size="7.5" text-anchor="end">-5</text>
<line x1="378.2" y1="578.48" x2="380.4" y2="578.48" stroke="#404040" stroke-width="1.3"/>
<line x1="376.4" y1="560.8" x2="380.4" y2="560.8" stroke="#404040" stroke-width="1.3"/>
<text x="373.1" y="563.3" font-size="7.5" text-anchor="end">0</text>
<line x1="378.2" y1="543.12" x2="380.4" y2="543.12" stroke="#404040" stroke-width="1.3"/>
<line x1="376.4" y1="525.45" x2="380.4" y2="525.45" stroke="#404040" stroke-width="1.3"/>
<text x="373.1" y="527.95" font-size="7.5" text-anchor="end">5</text>
<line x1="378.2" y1="507.78" x2="380.4" y2="507.78" stroke="#404040" stroke-width="1.3"/>
<line x1="376.4" y1="490.1" x2="380.4" y2="490.1" stroke="#404040" stroke-width="1.3"/>
<text x="373.1" y="492.6" font-size="7.5" text-anchor="end">10</text>
<line x1="380.4" y1="649.4" x2="380.4" y2="653.4" stroke="#404040" stroke-width="1.3"/>
<text x="380.4" y="661.4" font-size="7.5" text-anchor="middle">0</text>
<line x1="403.08" y1="649.4" x2="403.08" y2="651.6" stroke="#404040" stroke-width="1.3"/>
<line x1="425.76" y1="649.4" x2="425.76" y2="653.4" stroke="#404040" stroke-width="1.3"/>
<text x="425.76" y="661.4" font-size="7.5" text-anchor="middle">30</text>
<line x1="448.44" y1="649.4" x2="448.44" y2="651.6" stroke="#404040" stroke-width="1.3"/>
<line x1="471.12" y1="649.4" x2="471.12" y2="653.4" stroke="#404040" stroke-width="1.3"/>
<text x="471.12" y="661.4" font-size="7.5" text-anchor="middle">60</text>
<line x1="493.8" y1="649.4" x2="493.8" y2="651.6" stroke="#404040" stroke-width="1.3"/>
<line x1="516.48" y1="649.4" x2="516.48" y2="653.4" stroke="#404040" stroke-width="1.3"/>
<text x="516.48" y="661.4" font-size="7.5" text-anchor="middle">90</text>
<line x1="539.16" y1="649.4" x2="539.16" y2="651.6" stroke="#404040" stroke-width="1.3"/>
<line x1="561.84" y1="649.4" x2="561.84" y2="653.4" stroke="#404040" stroke-width="1.3"/>
<text x="561.84" y="661.4" font-size="7.5" text-anchor="middle">120</text>
<line x1="584.52" y1="649.4" x2="584.52" y2="651.6" stroke="#404040" stroke-width="1.3"/>
<line x1="607.2" y1="649.4" x2="607.2" y2="653.4" stroke="#404040" stroke-width="1.3"/>
<text x="607.2" y="661.4" font-size="7.5" text-anchor="middle">150</text>
<line x1="629.88" y1="649.4" x2="629.88" y2="651.6" stroke="#404040" stroke-width="1.3"/>
<line x1="652.56" y1="649.4" x2="652.56" y2="653.4" stroke="#404040" stroke-width="1.3"/>
<text x="652.56" y="661.4" font-size="7.5" text-anchor="middle">180</text>
<line x1="675.24" y1="649.4" x2="675.24" y2="651.6" stroke="#404040" stroke-width="1.3"/>
<text transform="translate(532.45 672.6) scale(1 1.1)" font-size="8.2" text-anchor="middle">Sample Number</text>
<text x="355.6" y="561" font-size="8.3" text-anchor="middle" dominant-baseline="central" transform="rotate(-90 355.6 561)">Error (%)</text>
<line x1="29.1" y1="715.54" x2="331.4" y2="715.54" stroke="#dcdcdc" stroke-width="0.9"/>
<line x1="29.1" y1="739.39" x2="331.4" y2="739.39" stroke="#dcdcdc" stroke-width="0.9"/>
<line x1="29.1" y1="763.23" x2="331.4" y2="763.23" stroke="#dcdcdc" stroke-width="0.9"/>
<line x1="29.1" y1="787.07" x2="331.4" y2="787.07" stroke="#dcdcdc" stroke-width="0.9"/>
<line x1="29.1" y1="810.91" x2="331.4" y2="810.91" stroke="#dcdcdc" stroke-width="0.9"/>
<line x1="29.1" y1="834.76" x2="331.4" y2="834.76" stroke="#dcdcdc" stroke-width="0.9"/>
<polyline points="29.46,788.42 30.91,784.05 32.66,773.14 34.55,790.6 36.01,785.51 37.47,757.56 38.92,816.08 40.38,794.24 42.13,767.31 43.44,817.54 44.75,814.62 46.2,801.52 48.39,752.03 49.84,768.04 51.3,794.24 52.76,789.88 54.21,794.24 55.96,796.43 57.42,804.43 58.58,766.58 59.75,784.05 61.2,786.24 62.95,786.97 64.7,795.7 66.16,794.24 67.32,776.77 69.21,820.45 70.52,782.6 72.13,777.5 73.58,773.14 75.33,798.61 76.93,820.45 78.53,781.14 79.7,782.6 81.16,784.05 82.61,803.71 84.36,759.31 85.96,797.88 86.98,789.88 87.18,790.6 88.64,812.44 90.1,781.14 91.99,762.95 93.3,767.31 94.9,768.04 96.36,792.79 98.11,781.14 99.56,778.23 101.02,778.96 102.18,766.58 103.93,754.21 105.39,765.13 106.84,786.97 108.3,763.67 110.05,771.68 111.94,771.68 113.4,771.68 114.85,767.31 116.31,823.36 117.77,780.41 119.22,808.8 120.68,752.03 122.57,788.42 123.59,750.57 125.34,736.74 126.5,759.31 128.25,812.44 130.15,781.14 132.33,763.67 133.79,772.41 135.68,820.45 137.14,787.69 138.59,804.43 140.34,772.41 142.52,789.88 144.62,804.43 146.08,788.42 147.53,807.35 149.28,792.06 150.74,824.09 152.49,777.5 153.94,804.43 155.83,829.18 157.29,781.14 159.04,759.31 160.64,766.58 161.95,792.79 163.26,806.62 165.01,785.51 166.76,778.23 168.21,777.5 169.67,784.05 170.83,789.88 172.15,776.77 173.31,820.45 175.2,782.6 176.66,771.68 178.12,784.05 179.57,804.43 181.32,784.78 182.78,807.35 184.23,814.62 185.4,791.33 187.15,758.58 188.6,768.04 190.35,814.62 191.81,781.14 193.26,760.03 195.16,816.81 196.61,786.24 197.78,788.42 199.52,773.14 200.75,802.25 202.2,751.3 203.66,795.7 205.12,781.14 206.28,798.61 207.45,805.89 208.47,807.35 209.92,731.65 211.38,839.37 212.83,739.65 214.29,802.98 215.75,821.18 217.2,792.79 218.66,787.69 220.41,832.09 222.01,802.25 223.47,789.88 225.21,786.97 226.67,784.05 228.13,794.24 229.58,802.98 231.33,827.73 232.79,771.68 234.39,803.71 235.7,731.65 237.16,786.97 238.61,752.75 240.21,713.59" fill="none" stroke="#9a78dc" stroke-width="1.1" stroke-linejoin="miter" stroke-miterlimit="2.5"/>
<polyline points="241.46,792.79 243.2,760.03 244.66,785.51 246.12,769.5 247.57,781.14 249.03,779.69 250.49,792.79 252.38,805.16 253.83,791.33 255.29,794.24 256.75,798.61 258.2,795.7 259.66,783.33 261.12,801.52 262.57,816.08 264.47,800.07 266.21,784.05 267.67,771.68 268.83,758.58 270.58,779.69 272.04,762.22 273.79,802.25 275.68,781.14 277.14,763.67 278.16,744.02 279.61,766.58 281.21,804.43 282.52,786.24 284.42,784.05 285.87,783.33" fill="none" stroke="#f5922a" stroke-width="1.1" stroke-linejoin="miter" stroke-miterlimit="2.5"/>
<polyline points="287.21,771.68 288.37,770.22 289.83,788.42 291.29,802.25 292.45,786.97 293.48,786.24 294.5,791.33 295.95,778.23 297.41,760.03 298.87,778.23 300.33,789.88 301.49,793.52 302.66,788.42 303.68,786.97 305.14,801.52 306.59,804.43 308.05,786.97 309.95,765.13 311.41,784.05 312.72,805.89 314.17,808.07 315.63,762.22 316.36,786.24 317.53,804.43 318.99,758.58 320.44,795.7 321.9,845.92 323.07,813.17 324.38,735.29 326.27,734.56 327.73,766.58 329.92,784.05 331.38,796.43" fill="none" stroke="#4fd8d0" stroke-width="1.1" stroke-linejoin="miter" stroke-miterlimit="2.5"/>
<line x1="240.5" y1="692" x2="240.5" y2="857.6" stroke="#4a4a4a" stroke-width="1" stroke-dasharray="1 1"/>
<line x1="286.5" y1="692" x2="286.5" y2="857.6" stroke="#4a4a4a" stroke-width="1" stroke-dasharray="1 1"/>
<rect x="35.9" y="699.2" width="53.2" height="26" fill="#000" fill-opacity="0.125"/>
<rect x="32.4" y="695.4" width="53.2" height="26" fill="#fff" stroke="#a8a8a8" stroke-width="0.8"/>
<line x1="34.1" y1="700.5" x2="51.7" y2="700.5" stroke="#9a78dc" stroke-width="1.2"/>
<text x="53.4" y="703" font-size="7.4">Train</text>
<line x1="34.1" y1="708.9" x2="51.7" y2="708.9" stroke="#f5922a" stroke-width="1.2"/>
<text x="53.4" y="711.4" font-size="7.4">Validation</text>
<line x1="34.1" y1="717.1" x2="51.7" y2="717.1" stroke="#4fd8d0" stroke-width="1.2"/>
<text x="53.4" y="719.6" font-size="7.4">Test</text>
<rect x="95.2" y="708.1" width="33.3" height="9" fill="#000" fill-opacity="0.125"/>
<rect x="91.2" y="704.5" width="33.3" height="9" fill="#fff" stroke="#a8a8a8" stroke-width="0.8"/>
<text x="107.85" y="711.6" font-size="7.4" text-anchor="middle">MLFO (3)</text>
<rect x="28.4" y="691.7" width="303.7" height="166.9" fill="none" stroke="#404040" stroke-width="1.2"/>
<line x1="25" y1="858.6" x2="28.4" y2="858.6" stroke="#404040" stroke-width="1.3"/>
<text x="21.1" y="861.1" font-size="7.5" text-anchor="end">-15</text>
<line x1="26.6" y1="846.68" x2="28.4" y2="846.68" stroke="#404040" stroke-width="1.3"/>
<line x1="25" y1="834.76" x2="28.4" y2="834.76" stroke="#404040" stroke-width="1.3"/>
<text x="21.1" y="837.26" font-size="7.5" text-anchor="end">-10</text>
<line x1="26.6" y1="822.84" x2="28.4" y2="822.84" stroke="#404040" stroke-width="1.3"/>
<line x1="25" y1="810.91" x2="28.4" y2="810.91" stroke="#404040" stroke-width="1.3"/>
<text x="21.1" y="813.41" font-size="7.5" text-anchor="end">-5</text>
<line x1="26.6" y1="798.99" x2="28.4" y2="798.99" stroke="#404040" stroke-width="1.3"/>
<line x1="25" y1="787.07" x2="28.4" y2="787.07" stroke="#404040" stroke-width="1.3"/>
<text x="21.1" y="789.57" font-size="7.5" text-anchor="end">0</text>
<line x1="26.6" y1="775.15" x2="28.4" y2="775.15" stroke="#404040" stroke-width="1.3"/>
<line x1="25" y1="763.23" x2="28.4" y2="763.23" stroke="#404040" stroke-width="1.3"/>
<text x="21.1" y="765.73" font-size="7.5" text-anchor="end">5</text>
<line x1="26.6" y1="751.31" x2="28.4" y2="751.31" stroke="#404040" stroke-width="1.3"/>
<line x1="25" y1="739.39" x2="28.4" y2="739.39" stroke="#404040" stroke-width="1.3"/>
<text x="21.1" y="741.89" font-size="7.5" text-anchor="end">10</text>
<line x1="26.6" y1="727.46" x2="28.4" y2="727.46" stroke="#404040" stroke-width="1.3"/>
<line x1="25" y1="715.54" x2="28.4" y2="715.54" stroke="#404040" stroke-width="1.3"/>
<text x="21.1" y="718.04" font-size="7.5" text-anchor="end">15</text>
<line x1="26.6" y1="703.62" x2="28.4" y2="703.62" stroke="#404040" stroke-width="1.3"/>
<line x1="25" y1="691.7" x2="28.4" y2="691.7" stroke="#404040" stroke-width="1.3"/>
<text x="21.1" y="694.2" font-size="7.5" text-anchor="end">20</text>
<line x1="28.4" y1="858.6" x2="28.4" y2="862" stroke="#404040" stroke-width="1.3"/>
<text x="28.4" y="870" font-size="7.5" text-anchor="middle">0</text>
<line x1="51.08" y1="858.6" x2="51.08" y2="860.4" stroke="#404040" stroke-width="1.3"/>
<line x1="73.76" y1="858.6" x2="73.76" y2="862" stroke="#404040" stroke-width="1.3"/>
<text x="73.76" y="870" font-size="7.5" text-anchor="middle">30</text>
<line x1="96.44" y1="858.6" x2="96.44" y2="860.4" stroke="#404040" stroke-width="1.3"/>
<line x1="119.12" y1="858.6" x2="119.12" y2="862" stroke="#404040" stroke-width="1.3"/>
<text x="119.12" y="870" font-size="7.5" text-anchor="middle">60</text>
<line x1="141.8" y1="858.6" x2="141.8" y2="860.4" stroke="#404040" stroke-width="1.3"/>
<line x1="164.48" y1="858.6" x2="164.48" y2="862" stroke="#404040" stroke-width="1.3"/>
<text x="164.48" y="870" font-size="7.5" text-anchor="middle">90</text>
<line x1="187.16" y1="858.6" x2="187.16" y2="860.4" stroke="#404040" stroke-width="1.3"/>
<line x1="209.84" y1="858.6" x2="209.84" y2="862" stroke="#404040" stroke-width="1.3"/>
<text x="209.84" y="870" font-size="7.5" text-anchor="middle">120</text>
<line x1="232.52" y1="858.6" x2="232.52" y2="860.4" stroke="#404040" stroke-width="1.3"/>
<line x1="255.2" y1="858.6" x2="255.2" y2="862" stroke="#404040" stroke-width="1.3"/>
<text x="255.2" y="870" font-size="7.5" text-anchor="middle">150</text>
<line x1="277.88" y1="858.6" x2="277.88" y2="860.4" stroke="#404040" stroke-width="1.3"/>
<line x1="300.56" y1="858.6" x2="300.56" y2="862" stroke="#404040" stroke-width="1.3"/>
<text x="300.56" y="870" font-size="7.5" text-anchor="middle">180</text>
<line x1="323.24" y1="858.6" x2="323.24" y2="860.4" stroke="#404040" stroke-width="1.3"/>
<text transform="translate(180.25 881) scale(1 1.1)" font-size="8.2" text-anchor="middle">Sample Number</text>
<text x="5" y="775.15" font-size="8.3" text-anchor="middle" dominant-baseline="central" transform="rotate(-90 5 775.15)">Error (%)</text>
<line x1="381.2" y1="704.5" x2="683.8" y2="704.5" stroke="#dcdcdc" stroke-width="0.9"/>
<line x1="381.2" y1="729.53" x2="683.8" y2="729.53" stroke="#dcdcdc" stroke-width="0.9"/>
<line x1="381.2" y1="754.57" x2="683.8" y2="754.57" stroke="#dcdcdc" stroke-width="0.9"/>
<line x1="381.2" y1="779.6" x2="683.8" y2="779.6" stroke="#dcdcdc" stroke-width="0.9"/>
<line x1="381.2" y1="804.63" x2="683.8" y2="804.63" stroke="#dcdcdc" stroke-width="0.9"/>
<line x1="381.2" y1="829.67" x2="683.8" y2="829.67" stroke="#dcdcdc" stroke-width="0.9"/>
<line x1="381.2" y1="854.7" x2="683.8" y2="854.7" stroke="#dcdcdc" stroke-width="0.9"/>
<polyline points="381.73,772.69 383.47,769.22 384.86,786.58 386.59,812.61 388.15,780.5 389.54,795.26 391.27,802.2 393.01,777.9 394.39,773.56 395.95,811.75 397.34,811.75 398.73,755.34 400.29,770.96 401.68,780.5 403.41,781.37 404.8,784.84 406.36,806.54 407.75,788.31 409.48,829.97 410.87,765.75 412.43,781.37 413.82,781.37 415.2,777.9 416.76,810.01 418.15,805.67 419.88,778.77 421.27,802.2 423.01,764.01 424.39,732.77 425.61,753.6 427.17,820.43 429.08,812.61 430.81,769.22 432.02,771.83 433.76,759.68 435.14,822.16 436.53,763.15 438.09,826.5 440.82,783.11 442.55,771.83 443.94,769.22 445.67,759.68 447.06,764.88 448.79,852.54 450.53,775.3 452.26,780.5 453.82,779.64 456.08,737.98 457.46,774.43 459.2,772.69 460.41,758.81 462.14,774.43 464.75,731.04 466.83,764.88 468.56,812.61 469.95,764.88 471.68,816.09 473.42,798.73 474.8,792.65 476.02,801.33 478.27,730.17 480.35,798.73 482.95,739.71 485.03,779.64 486.42,754.47 488.16,801.33 489.54,775.3 491.1,798.73 492.84,779.64 495.09,767.49 496.95,788.31 498.34,777.9 500.07,774.43 502.67,812.61 504.75,740.58 506.14,777.9 507.53,819.56 509.26,774.43 511.86,760.54 513.94,731.9 515.16,793.52 518.28,764.88 520.01,779.64 521.4,778.77 522.61,732.77 523.83,772.69 525.21,763.15 526.95,776.16 528.68,739.71 530.07,762.28 531.8,787.45 533.54,783.11 535.62,811.75 537.35,783.11 539.09,773.56 540.47,788.31 542.55,811.75 544.29,777.9 545.5,763.15 546.89,811.75 548.62,774.43 549.84,803.94 551.75,731.9 552.73,835.18 554.47,712.81 555.86,779.64 557.59,753.6 558.8,788.31 560.54,809.14 562.27,749.26 563.49,824.76 565.22,743.19 566.61,781.37 567.99,843.86 569.73,778.77 571.81,782.24 573.89,810.01 575.62,752.73 577.01,823.03 578.75,783.98 580.48,786.58 582.56,795.26 584.82,776.16 586.2,777.9 587.76,731.9 589.15,779.64 590.88,774.43 592.27,773.56" fill="none" stroke="#c80a18" stroke-width="1.1" stroke-linejoin="miter" stroke-miterlimit="2.5"/>
<polyline points="593.74,803.94 595.47,721.49 596.86,783.11 598.6,712.81 600.68,765.75 602.42,781.37 604.5,788.31 606.76,800.46 608.49,783.11 610.23,801.33 611.97,790.05 613.7,772.69 615.44,795.26 617.69,731.9 619.43,793.52 621.17,777.9 622.9,751.86 624.64,772.69 626.38,780.5 628.46,777.9 630.19,727.56 631.93,774.43 633.32,824.76 635.06,779.64 637.14,779.64 638.53,780.5" fill="none" stroke="#acf040" stroke-width="1.1" stroke-linejoin="miter" stroke-miterlimit="2.5"/>
<polyline points="639.08,781.14 640.54,744.75 641.56,765.13 643.45,804.43 644.91,781.14 646.37,759.31 647.83,772.41 649.58,762.95 651.03,778.23 652.78,795.7 653.95,789.88 655.41,779.69 657.59,806.62 659.49,791.33 661.97,778.23 663.43,755.67 664.59,768.04 666.34,810.26 667.8,762.95 668.82,788.42 670.71,807.35 672.61,781.14 673.92,838.65 675.52,768.04 676.98,744.75 678.29,814.62 679.9,758.58 681.36,768.04 683.1,782.6" fill="none" stroke="#c0a018" stroke-width="1.1" stroke-linejoin="miter" stroke-miterlimit="2.5"/>
<line x1="592.5" y1="693" x2="592.5" y2="866.5" stroke="#4a4a4a" stroke-width="1" stroke-dasharray="1 1"/>
<line x1="638.5" y1="693" x2="638.5" y2="866.5" stroke="#4a4a4a" stroke-width="1" stroke-dasharray="1 1"/>
<rect x="388.2" y="699.6" width="52.6" height="27.2" fill="#000" fill-opacity="0.125"/>
<rect x="384.7" y="695.8" width="52.6" height="27.2" fill="#fff" stroke="#a8a8a8" stroke-width="0.8"/>
<line x1="386.4" y1="700.7" x2="404" y2="700.7" stroke="#c80a18" stroke-width="1.2"/>
<text x="405.7" y="703.2" font-size="7.4">Train</text>
<line x1="386.4" y1="709.4" x2="404" y2="709.4" stroke="#acf040" stroke-width="1.2"/>
<text x="405.7" y="711.9" font-size="7.4">Validation</text>
<line x1="386.4" y1="718.2" x2="404" y2="718.2" stroke="#c0a018" stroke-width="1.2"/>
<text x="405.7" y="720.7" font-size="7.4">Test</text>
<rect x="447.1" y="709.2" width="32.6" height="9.6" fill="#000" fill-opacity="0.125"/>
<rect x="443.1" y="705.6" width="32.6" height="9.6" fill="#fff" stroke="#a8a8a8" stroke-width="0.8"/>
<text x="459.4" y="713" font-size="7.4" text-anchor="middle">MLCS (3)</text>
<rect x="380.5" y="692" width="304" height="175.5" fill="none" stroke="#404040" stroke-width="1.2"/>
<line x1="378.5" y1="867.22" x2="380.5" y2="867.22" stroke="#404040" stroke-width="1.3"/>
<line x1="376.7" y1="854.7" x2="380.5" y2="854.7" stroke="#404040" stroke-width="1.3"/>
<text x="373.2" y="857.2" font-size="7.5" text-anchor="end">-15</text>
<line x1="378.5" y1="842.18" x2="380.5" y2="842.18" stroke="#404040" stroke-width="1.3"/>
<line x1="376.7" y1="829.67" x2="380.5" y2="829.67" stroke="#404040" stroke-width="1.3"/>
<text x="373.2" y="832.17" font-size="7.5" text-anchor="end">-10</text>
<line x1="378.5" y1="817.15" x2="380.5" y2="817.15" stroke="#404040" stroke-width="1.3"/>
<line x1="376.7" y1="804.63" x2="380.5" y2="804.63" stroke="#404040" stroke-width="1.3"/>
<text x="373.2" y="807.13" font-size="7.5" text-anchor="end">-5</text>
<line x1="378.5" y1="792.12" x2="380.5" y2="792.12" stroke="#404040" stroke-width="1.3"/>
<line x1="376.7" y1="779.6" x2="380.5" y2="779.6" stroke="#404040" stroke-width="1.3"/>
<text x="373.2" y="782.1" font-size="7.5" text-anchor="end">0</text>
<line x1="378.5" y1="767.08" x2="380.5" y2="767.08" stroke="#404040" stroke-width="1.3"/>
<line x1="376.7" y1="754.57" x2="380.5" y2="754.57" stroke="#404040" stroke-width="1.3"/>
<text x="373.2" y="757.07" font-size="7.5" text-anchor="end">5</text>
<line x1="378.5" y1="742.05" x2="380.5" y2="742.05" stroke="#404040" stroke-width="1.3"/>
<line x1="376.7" y1="729.53" x2="380.5" y2="729.53" stroke="#404040" stroke-width="1.3"/>
<text x="373.2" y="732.03" font-size="7.5" text-anchor="end">10</text>
<line x1="378.5" y1="717.02" x2="380.5" y2="717.02" stroke="#404040" stroke-width="1.3"/>
<line x1="376.7" y1="704.5" x2="380.5" y2="704.5" stroke="#404040" stroke-width="1.3"/>
<text x="373.2" y="707" font-size="7.5" text-anchor="end">15</text>
<line x1="380.5" y1="867.5" x2="380.5" y2="871.3" stroke="#404040" stroke-width="1.3"/>
<text x="380.5" y="879.9" font-size="7.5" text-anchor="middle">0</text>
<line x1="403.18" y1="867.5" x2="403.18" y2="869.5" stroke="#404040" stroke-width="1.3"/>
<line x1="425.86" y1="867.5" x2="425.86" y2="871.3" stroke="#404040" stroke-width="1.3"/>
<text x="425.86" y="879.9" font-size="7.5" text-anchor="middle">30</text>
<line x1="448.54" y1="867.5" x2="448.54" y2="869.5" stroke="#404040" stroke-width="1.3"/>
<line x1="471.22" y1="867.5" x2="471.22" y2="871.3" stroke="#404040" stroke-width="1.3"/>
<text x="471.22" y="879.9" font-size="7.5" text-anchor="middle">60</text>
<line x1="493.9" y1="867.5" x2="493.9" y2="869.5" stroke="#404040" stroke-width="1.3"/>
<line x1="516.58" y1="867.5" x2="516.58" y2="871.3" stroke="#404040" stroke-width="1.3"/>
<text x="516.58" y="879.9" font-size="7.5" text-anchor="middle">90</text>
<line x1="539.26" y1="867.5" x2="539.26" y2="869.5" stroke="#404040" stroke-width="1.3"/>
<line x1="561.94" y1="867.5" x2="561.94" y2="871.3" stroke="#404040" stroke-width="1.3"/>
<text x="561.94" y="879.9" font-size="7.5" text-anchor="middle">120</text>
<line x1="584.62" y1="867.5" x2="584.62" y2="869.5" stroke="#404040" stroke-width="1.3"/>
<line x1="607.3" y1="867.5" x2="607.3" y2="871.3" stroke="#404040" stroke-width="1.3"/>
<text x="607.3" y="879.9" font-size="7.5" text-anchor="middle">150</text>
<line x1="629.98" y1="867.5" x2="629.98" y2="869.5" stroke="#404040" stroke-width="1.3"/>
<line x1="652.66" y1="867.5" x2="652.66" y2="871.3" stroke="#404040" stroke-width="1.3"/>
<text x="652.66" y="879.9" font-size="7.5" text-anchor="middle">180</text>
<line x1="675.34" y1="867.5" x2="675.34" y2="869.5" stroke="#404040" stroke-width="1.3"/>
<text transform="translate(532.5 890.5) scale(1 1.1)" font-size="8.2" text-anchor="middle">Sample Number</text>
<text x="355.7" y="779.75" font-size="8.3" text-anchor="middle" dominant-baseline="central" transform="rotate(-90 355.7 779.75)">Error (%)</text>
</svg>
</body></html>
